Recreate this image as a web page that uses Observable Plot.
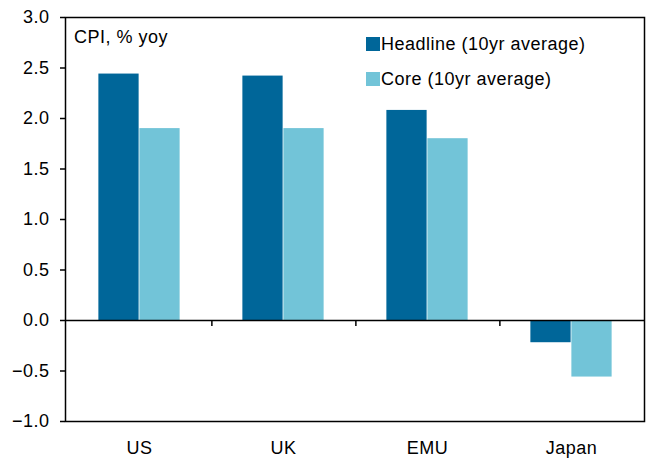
<!DOCTYPE html>
<html><head><meta charset="utf-8">
<script src="https://cdn.jsdelivr.net/npm/d3@7"></script>
<script src="https://cdn.jsdelivr.net/npm/@observablehq/plot@0.6"></script>
<style>
body{margin:0;background:#fff;font-family:"Liberation Sans",Arial,sans-serif;}
#wrap{position:relative;width:652px;height:459px;}
#wrap svg text{letter-spacing:0.5px;}
.lab{position:absolute;font-size:18px;line-height:21px;letter-spacing:0.5px;color:#000;white-space:nowrap;}
.sw{display:inline-block;width:14px;height:14px;vertical-align:-1px;margin-right:1px;}
</style></head>
<body><div id="wrap"></div>
<script>
const countries = ["US", "UK", "EMU", "Japan"];
const headline = [2.44, 2.42, 2.08, -0.22];
const core = [1.90, 1.90, 1.80, -0.56];
const seriesNames = ["Headline (10yr average)", "Core (10yr average)"];
const colors = ["#006699", "#72c4d8"];
const yTicks = [-1, -0.5, 0, 0.5, 1, 1.5, 2, 2.5, 3];

const hData = countries.map((c, i) => ({country: c, value: headline[i]}));
const cData = countries.map((c, i) => ({country: c, value: core[i]}));

const W = 652, H = 459, mL = 65, mR = 8, mT = 17, mB = 38;
const half = (W - mL - mR) / countries.length / 2;
const barW = 41;

const chart = Plot.plot({
  width: W, height: H,
  marginLeft: mL, marginRight: mR, marginTop: mT, marginBottom: mB,
  style: {fontFamily: "Liberation Sans, Arial, sans-serif", fontSize: "18px", color: "#000", background: "#fff"},
  x: {domain: countries, padding: 0, label: null},
  y: {domain: [-1, 3], label: null},
  marks: [
    Plot.barY(hData, {x: "country", y: "value", fill: colors[0], insetLeft: half - barW, insetRight: half}),
    Plot.barY(cData, {x: "country", y: "value", fill: colors[1], insetLeft: half, insetRight: half - barW}),
    Plot.ruleY([0], {stroke: "#000", strokeWidth: 1.5}),
    Plot.ruleX(countries.slice(0, -1), {x: d => d, y1: 0, y2: -0.06, dx: half, stroke: "#000", strokeWidth: 1.5}),
    Plot.frame({stroke: "#000", strokeWidth: 1.5}),
    Plot.axisY({ticks: yTicks, tickFormat: d3.format(".1f"), tickSize: 5, tickPadding: 11, fontSize: 18, stroke: "#000", strokeWidth: 1.5}),
    Plot.axisX({tickSize: 0, tickPadding: 20, fontSize: 18})
  ]
});
const wrap = document.getElementById("wrap");
wrap.appendChild(chart);

const t = document.createElement("div");
t.className = "lab"; t.style.left = "74px"; t.style.top = "27px";
t.textContent = "CPI, % yoy";
wrap.appendChild(t);

seriesNames.forEach((n, i) => {
  const d = document.createElement("div");
  d.className = "lab"; d.style.left = "366px"; d.style.top = (34 + i * 35) + "px";
  d.innerHTML = `<span class="sw" style="background:${colors[i]}"></span>`;
  d.appendChild(document.createTextNode(n));
  wrap.appendChild(d);
});
</script></body></html>
